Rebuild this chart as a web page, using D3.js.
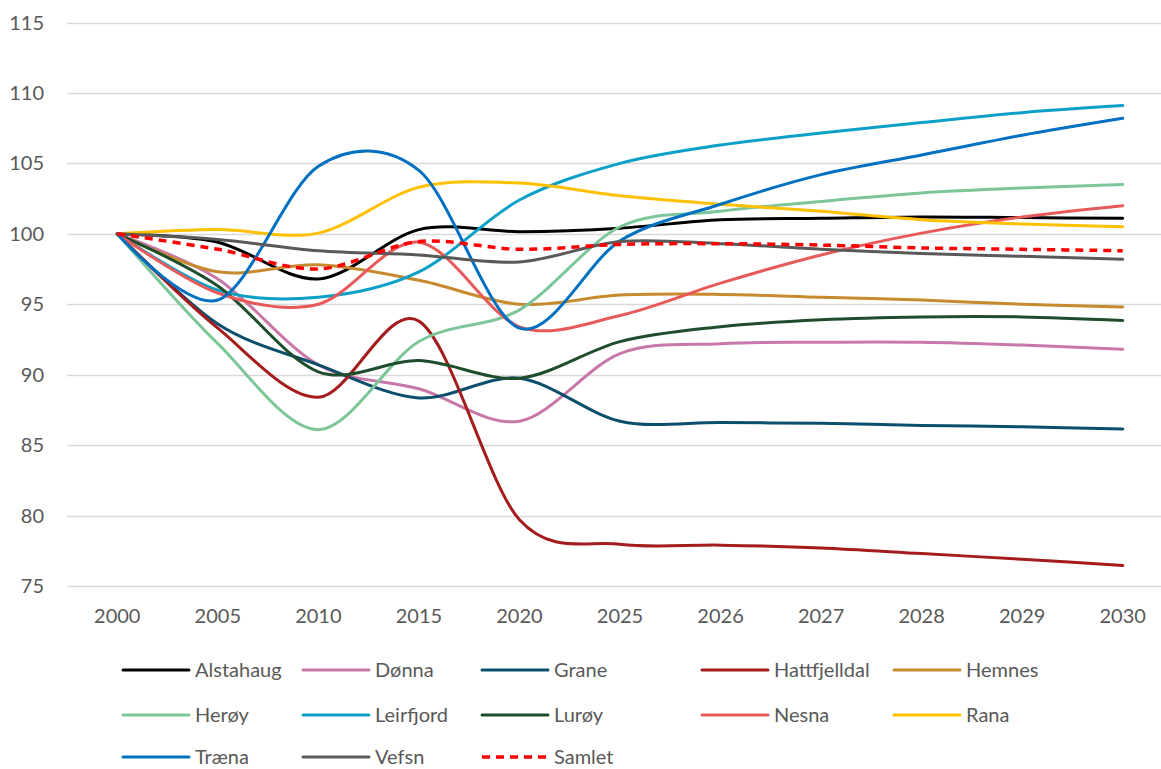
<!DOCTYPE html>
<html>
<head>
<meta charset="utf-8">
<script src="https://cdn.jsdelivr.net/npm/d3@7"></script>
<style>
  body { margin: 0; background: #fff; }
  text { font-family: Lato, "Open Sans", sans-serif; fill: #595959; }
</style>
</head>
<body>
<div id="chart"></div>
<script>
let years = ["2000", "2005", "2010", "2015", "2020", "2025", "2026", "2027", "2028", "2029", "2030"];
let yTicks = [75, 80, 85, 90, 95, 100, 105, 110, 115];

let names = ["Alstahaug", "Dønna", "Grane", "Hattfjelldal", "Hemnes", "Herøy", "Leirfjord", "Lurøy", "Nesna", "Rana", "Træna", "Vefsn", "Samlet"];
let colors = ["#000000", "#C878A8", "#0B4F6C", "#A51C1C", "#C88A2E", "#7DC69A", "#0BA0C8", "#1E4D2B", "#E85A5A", "#FFC000", "#0070C0", "#595959", "#FF0000"];

let alstahaug    = [100, 99.4, 96.8, 100.3, 100.15, 100.4, 101.0, 101.1, 101.2, 101.15, 101.1];
let donna        = [100, 96.8, 90.7, 89.0, 86.7, 91.5, 92.2, 92.3, 92.3, 92.1, 91.8];
let grane        = [100, 93.6, 90.7, 88.35, 89.75, 86.7, 86.6, 86.55, 86.4, 86.3, 86.15];
let hattfjelldal = [100, 93.3, 88.4, 93.8, 79.7, 77.96, 77.9, 77.7, 77.3, 76.9, 76.45];
let hemnes       = [100, 97.3, 97.8, 96.7, 95.0, 95.65, 95.7, 95.5, 95.3, 95.0, 94.8];
let heroy        = [100, 92.2, 86.1, 92.35, 94.6, 100.5, 101.6, 102.3, 102.9, 103.25, 103.5];
let leirfjord    = [100, 96.0, 95.5, 97.3, 102.4, 105.0, 106.3, 107.15, 107.9, 108.6, 109.1];
let luroy        = [100, 96.3, 90.2, 91.0, 89.75, 92.35, 93.4, 93.9, 94.1, 94.1, 93.85];
let nesna        = [100, 95.8, 95.0, 99.4, 93.4, 94.2, 96.5, 98.5, 100.05, 101.2, 102.0];
let rana         = [100, 100.3, 100.05, 103.3, 103.6, 102.7, 102.1, 101.6, 101.0, 100.7, 100.5];
let traena       = [100, 95.3, 104.8, 104.5, 93.3, 99.5, 102.1, 104.2, 105.6, 107.0, 108.2];
let vefsn        = [100, 99.6, 98.8, 98.5, 98.0, 99.45, 99.3, 98.9, 98.6, 98.4, 98.2];
let samlet       = [100, 98.9, 97.5, 99.45, 98.9, 99.25, 99.3, 99.2, 99.0, 98.9, 98.8];

let seriesValues = [alstahaug, donna, grane, hattfjelldal, hemnes, heroy, leirfjord, luroy, nesna, rana, traena, vefsn, samlet];

let width = 1161;
let height = 769;
let margin = {top: 22.5, left: 67, right: -12, bottom: 183};

let svg = d3.select("#chart").append("svg")
  .attr("width", width)
  .attr("height", height);

let x = d3.scaleBand()
  .domain(years)
  .range([margin.left, width - margin.right]);

let y = d3.scaleLinear()
  .domain([75, 115])
  .range([height - margin.bottom, margin.top]);

// gridlines
svg.append("g")
  .selectAll("line")
  .data(yTicks)
  .enter()
  .append("line")
  .attr("x1", margin.left)
  .attr("x2", width - margin.right)
  .attr("y1", d => Math.round(y(d)) + 0.5)
  .attr("y2", d => Math.round(y(d)) + 0.5)
  .attr("stroke", "#d9d9d9")
  .attr("stroke-width", 1.5);

// y labels
svg.append("g")
  .selectAll("text")
  .data(yTicks)
  .enter()
  .append("text")
  .attr("x", 44)
  .attr("y", d => y(d))
  .attr("dy", "0.35em")
  .attr("text-anchor", "end")
  .attr("font-size", 20)
  .text(d => d);

// x labels
svg.append("g")
  .selectAll("text")
  .data(years)
  .enter()
  .append("text")
  .attr("x", d => x(d) + x.bandwidth() / 2)
  .attr("y", 616)
  .attr("dy", "0.35em")
  .attr("text-anchor", "middle")
  .attr("font-size", 20)
  .text(d => d);

let line = d3.line()
  .x((d, i) => x(years[i]) + x.bandwidth() / 2)
  .y(d => y(d))
  .curve(d3.curveCardinal.tension(0.05));

svg.append("g")
  .selectAll("path")
  .data(seriesValues)
  .enter()
  .append("path")
  .attr("d", d => line(d))
  .attr("fill", "none")
  .attr("stroke", (d, i) => colors[i])
  .attr("stroke-width", (d, i) => names[i] === "Samlet" ? 3.5 : 3)
  .attr("stroke-dasharray", (d, i) => names[i] === "Samlet" ? "8,6" : null)
  .attr("stroke-linecap", (d, i) => names[i] === "Samlet" ? "butt" : "round");

// legend
let legendCols = [123, 303, 482, 702, 894];
let legendRows = [670, 715, 757];

let legend = svg.append("g")
  .selectAll("g")
  .data(names)
  .enter()
  .append("g")
  .attr("transform", (d, i) => `translate(${legendCols[i % 5]},${legendRows[Math.floor(i / 5)]})`);

legend.append("line")
  .attr("x1", 0)
  .attr("x2", 66)
  .attr("y1", 0)
  .attr("y2", 0)
  .attr("stroke", (d, i) => colors[i])
  .attr("stroke-width", (d, i) => d === "Samlet" ? 3.5 : 3)
  .attr("stroke-dasharray", d => d === "Samlet" ? "8,6" : null)
  .attr("stroke-linecap", d => d === "Samlet" ? "butt" : "round");

legend.append("text")
  .attr("x", 72)
  .attr("y", 0)
  .attr("dy", "0.35em")
  .attr("font-size", 20)
  .text(d => d);
</script>
</body>
</html>
